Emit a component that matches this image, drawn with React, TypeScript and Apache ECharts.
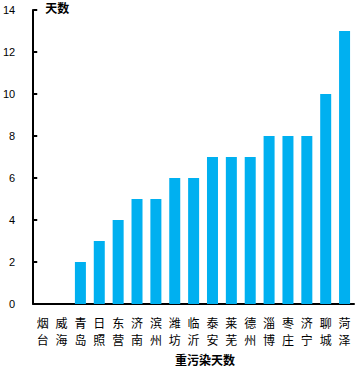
import React, { useEffect, useRef } from "react";
import * as echarts from "echarts";

const categories = ["烟台", "威海", "青岛", "日照", "东营", "济南", "滨州", "潍坊", "临沂", "泰安", "莱芜", "德州", "淄博", "枣庄", "济宁", "聊城", "菏泽"];
const days = [0, 0, 2, 3, 4, 5, 5, 6, 6, 7, 7, 7, 8, 8, 8, 10, 13];
const yTicks = { min: 0, max: 14, interval: 2 };

export default function App() {
  const ref = useRef<HTMLDivElement>(null);
  useEffect(() => {
    const chart = echarts.init(ref.current!, null, { renderer: "svg" });
    chart.setOption({
      animation: false,
      grid: { left: 32, right: 1, top: 10, bottom: 63 },
      xAxis: {
        type: "category",
        data: categories,
        axisLine: { lineStyle: { color: "#000", width: 2 } },
        axisTick: { inside: true, length: 4, lineStyle: { color: "#000", width: 2 } },
        axisLabel: {
          interval: 0,
          margin: 10,
          color: "#000",
          fontSize: 12,
          lineHeight: 17,
          fontFamily: "Noto Sans CJK SC",
          formatter: (v: string) => v.split("").join("\n"),
        },
      },
      yAxis: {
        type: "value",
        min: yTicks.min,
        max: yTicks.max,
        interval: yTicks.interval,
        name: "天数",
        nameLocation: "end",
        nameGap: 0,
        nameTextStyle: {
          color: "#000",
          fontWeight: "bold",
          fontSize: 12,
          fontFamily: "Noto Sans CJK SC",
          align: "left",
          verticalAlign: "top",
          padding: [-9, 0, 0, 12],
        },
        axisLine: { show: true, lineStyle: { color: "#000", width: 2 } },
        axisTick: { show: true, inside: true, length: 4, lineStyle: { color: "#000", width: 2 } },
        axisLabel: { color: "#000", fontSize: 11, fontFamily: "Liberation Sans", margin: 18 },
        splitLine: { show: false },
      },
      graphic: [
        {
          type: "text",
          left: 175,
          top: 353,
          style: {
            text: "重污染天数",
            fill: "#000",
            font: "bold 12px 'Noto Sans CJK SC'",
          },
        },
      ],
      series: [
        {
          type: "bar",
          data: days,
          barWidth: 11,
          itemStyle: { color: "#00B0F0" },
        },
      ],
    });
    return () => chart.dispose();
  }, []);
  return <div ref={ref} style={{ width: 355, height: 367, position: "absolute", left: 0, top: 0 }} />;
}
